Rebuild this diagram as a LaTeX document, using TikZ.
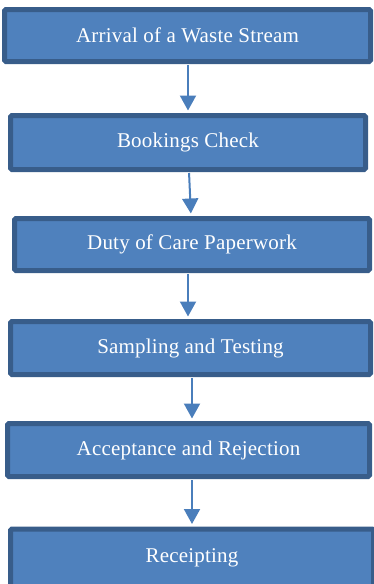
\documentclass[tikz,border=0pt]{standalone}
\usepackage{fontspec}
\setmainfont{Liberation Serif}[LetterSpace=1]
\usetikzlibrary{arrows.meta}
\definecolor{boxfill}{HTML}{4F81BD}
\definecolor{boxline}{HTML}{385D8A}
\definecolor{arrowcol}{HTML}{4A7EBB}
\begin{document}
\begin{tikzpicture}[x=1pt,y=-1pt,
  stepbox/.style={draw=boxline, fill=boxfill, line width=5pt, rounded corners=1.5pt,
    text=white, font=\fontsize{21}{25}\selectfont, inner sep=0pt},
  flow/.style={draw=arrowcol, line width=2pt, shorten <=1pt, shorten >=2.5pt,
    -{Triangle[width=16pt,length=15pt]}}]
  \useasboundingbox (0,0) rectangle (374,584);
  \clip (0,0) rectangle (374,584);
  % process steps
  \node[stepbox, minimum width=366pt, minimum height=52pt] (b1) at (187.5,35.5) {Arrival of a Waste Stream};
  \node[stepbox, minimum width=355pt, minimum height=54pt] (b2) at (188,142.5) {Bookings Check};
  \node[stepbox, minimum width=355pt, minimum height=52pt] (b3) at (192,244.5) {Duty of Care Paperwork};
  \node[stepbox, minimum width=360pt, minimum height=53pt] (b4) at (190.5,348) {Sampling and Testing};
  \node[stepbox, minimum width=362pt, minimum height=53pt] (b5) at (188.5,450) {Acceptance and Rejection};
  \node[stepbox, minimum width=363pt, minimum height=58pt] (b6) at (192,558) {Receipting};
  % connectors
  \draw[flow] ([xshift=0.5pt]b1.south) -- (b2.north);
  \draw[flow] ([xshift=1pt]b2.south) -- ([xshift=-1pt]b3.north);
  \draw[flow] ([xshift=-4pt]b3.south) -- ([xshift=-2.5pt]b4.north);
  \draw[flow] ([xshift=1.5pt]b4.south) -- ([xshift=3.5pt]b5.north);
  \draw[flow] ([xshift=3.5pt]b5.south) -- (b6.north);
\end{tikzpicture}
\end{document}
